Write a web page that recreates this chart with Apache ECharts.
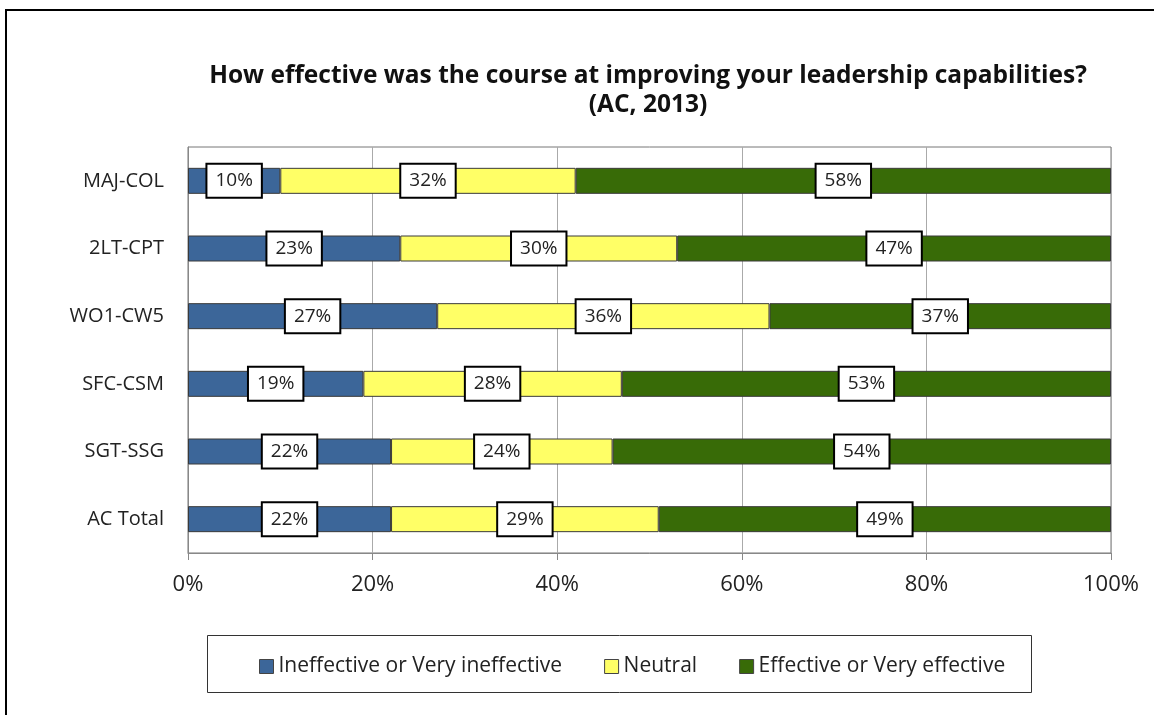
<!DOCTYPE html>
<html>
<head>
<meta charset="utf-8">
<script src="https://cdn.jsdelivr.net/npm/echarts@6/dist/echarts.min.js"></script>
<style>
  html, body { margin: 0; padding: 0; background: #fff; }
  #chart { width: 1154px; height: 715px; }
</style>
</head>
<body>
<div id="chart"></div>
<script>
// Survey groups, top to bottom
const categories = ['MAJ-COL', '2LT-CPT', 'WO1-CW5', 'SFC-CSM', 'SGT-SSG', 'AC Total'];
// Share of responses (%) per group
const ineffective = [10, 23, 27, 19, 22, 22];
const neutral = [32, 30, 36, 28, 24, 29];
const effective = [58, 47, 37, 53, 54, 49];
const seriesNames = ['Ineffective or Very ineffective', 'Neutral', 'Effective or Very effective'];
const xTicks = [0, 20, 40, 60, 80, 100];

const FONT = '"Open Sans", "Noto Sans", sans-serif';
const colors = ['#3C6699', '#FFFF66', '#386B07'];

const chart = echarts.init(document.getElementById('chart'));

const labelStyle = {
  show: true,
  position: 'inside',
  formatter: p => p.value + '%',
  fontFamily: FONT,
  fontSize: 19,
  color: '#222',
  backgroundColor: '#fff',
  borderColor: '#000',
  borderWidth: 2,
  padding: [7, 8, 6, 8]
};

function barSeries(name, data, color) {
  return {
    name: name,
    type: 'bar',
    stack: 'total',
    data: data,
    barWidth: 26,
    itemStyle: { color: color, borderColor: '#3a3a3a', borderWidth: 1 },
    label: labelStyle,
    emphasis: { disabled: true }
  };
}

chart.setOption({
  animation: false,
  title: {
    text: 'How effective was the course at improving your leadership capabilities?\n(AC, 2013)',
    left: 643,
    textAlign: 'center',
    top: 57,
    textStyle: { fontFamily: FONT, fontSize: 24.5, fontWeight: 'bold', color: '#111', lineHeight: 29 }
  },
  grid: {
    left: 188, right: 43, top: 147, height: 406,
    show: true, borderColor: '#777', borderWidth: 1, backgroundColor: 'transparent'
  },
  legend: {
    data: seriesNames,
    left: 254,
    top: 651,
    itemWidth: 14,
    itemHeight: 14,
    itemGap: 42,
    icon: 'rect',
    itemStyle: { borderColor: '#444', borderWidth: 1 },
    textStyle: { fontFamily: FONT, fontSize: 21, color: '#222' }
  },
  xAxis: {
    type: 'value',
    min: 0, max: 100, interval: 20,
    axisLine: { show: true, lineStyle: { color: '#888' } },
    axisTick: { show: true, length: 7, lineStyle: { color: '#888' } },
    splitLine: { show: true, lineStyle: { color: '#aaa', width: 1 } },
    axisLabel: {
      formatter: v => xTicks.includes(v) ? v + '%' : '',
      fontFamily: FONT, fontSize: 22, color: '#222', margin: 21
    }
  },
  yAxis: {
    type: 'category',
    data: categories,
    inverse: true,
    axisLine: { show: true, lineStyle: { color: '#888' } },
    axisTick: { show: false },
    axisLabel: { fontFamily: FONT, fontSize: 20, color: '#222', margin: 24 }
  },
  graphic: [
    {
      type: 'rect', silent: true,
      shape: { x: 6, y: 10, width: 1200, height: 800 },
      style: { fill: 'none', stroke: '#000', lineWidth: 2 }
    },
    {
      type: 'rect', silent: true,
      shape: { x: 207.5, y: 635.5, width: 824, height: 57 },
      style: { fill: 'none', stroke: '#333', lineWidth: 1 }
    }
  ],
  series: [
    barSeries(seriesNames[0], ineffective, colors[0]),
    barSeries(seriesNames[1], neutral, colors[1]),
    barSeries(seriesNames[2], effective, colors[2])
  ]
});
</script>
</body>
</html>
